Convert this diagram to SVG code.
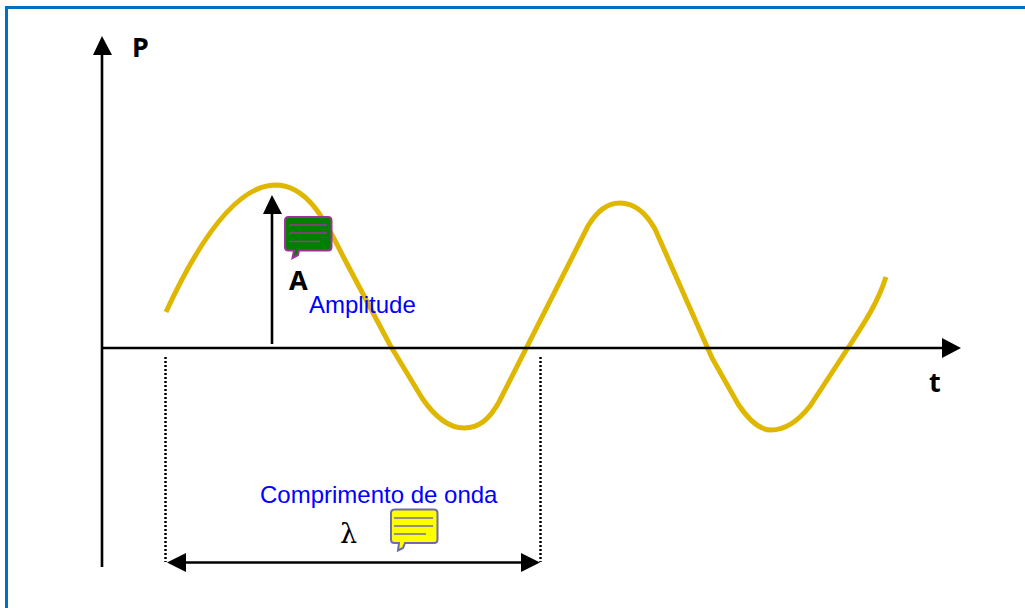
<svg xmlns="http://www.w3.org/2000/svg" width="1025" height="608" viewBox="0 0 1025 608">
<style>
.ax{fill:none;stroke:#000;stroke-width:2.6}
.dot{fill:none;stroke:#000;stroke-width:2.5;stroke-dasharray:2 2}
.ah{fill:#000}
.lb{font-family:"Noto Sans","Liberation Sans",sans-serif;font-weight:700;font-size:27px;fill:#000}
.bl{font-family:"Liberation Sans",Arial,sans-serif;font-size:24px;fill:#0000ff}
</style>
<rect x="0" y="0" width="1025" height="608" fill="#fff"/>
<path d="M6.500 608V7.500H1025" fill="none" stroke="#0070c0" stroke-width="3"/>
<g id="wave"><path d="M166 312C190 260 230 186 275 185C312 185 330 232 345 260L390 345L422 398C435 417 448 428 464 428C480 428 490 418 499 402L588 226C597 211 607 203 620 203C634 203 646 213 655 229L712 358L738 404C750 422 760 430 771 430C787 430 799 420 810 406L850 345C865 322 878 302 886 277" fill="none" stroke="#e0b700" stroke-width="5"/></g>
<g id="connectors">
<path class="ax" d="M102 567V52"/><path class="ah" d="M102 36L112 55H93Z"/>
<path class="ax" d="M102 348H945"/><path class="ah" d="M961 348L942 338V358Z"/>
<path class="ax" d="M272 344V212"/><path class="ah" d="M272 195L282 214H263Z"/>
<path class="dot" d="M165.500 357V562"/><path class="dot" d="M540.500 357V562"/>
<path class="ax" d="M184 562.500H522"/><path class="ah" d="M167 562.500L186 553V572Z"/><path class="ah" d="M540 562.500L521 553V572Z"/>
</g>
<g id="label-p"><text class="lb" x="132" y="57">P</text></g>
<g id="label-t"><text class="lb" x="929" y="392">t</text></g>
<g id="label-a"><text class="lb" x="289" y="290">A</text></g>
<g id="label-amplitude"><text class="bl" x="309" y="313">Amplitude</text></g>
<g id="label-comprimento"><text class="bl" x="260" y="503">Comprimento de onda</text></g>
<g id="label-lambda"><text x="340" y="543" font-family="'DejaVu Serif','Liberation Serif',serif" font-size="27" fill="#000">λ</text></g>
<g id="note-green">
<path d="M288.500 217H328Q331.500 217 331.500 220.500V247Q331.500 250.500 328 250.500H299L298 255L292.500 258L294 250.500H288.500Q285 250.500 285 247V220.500Q285 217 288.500 217Z" fill="#008000" stroke="#a0309a" stroke-width="2"/>
<path d="M289 225H327M289 233H327M289 241.500H320" stroke="#a0309a" stroke-width="1.500" fill="none"/>
</g>
<g id="note-yellow">
<path d="M394.500 509.500H434Q437.500 509.500 437.500 513V539.500Q437.500 543 434 543H405L403 548L398 550.500L399 543H394.500Q391 543 391 539.500V513Q391 509.500 394.500 509.500Z" fill="#ffff00" stroke="#6d6da8" stroke-width="2"/>
<path d="M394 518H433M394 526H433M394 534H426" stroke="#6d6da8" stroke-width="1.500" fill="none"/>
</g>
</svg>
